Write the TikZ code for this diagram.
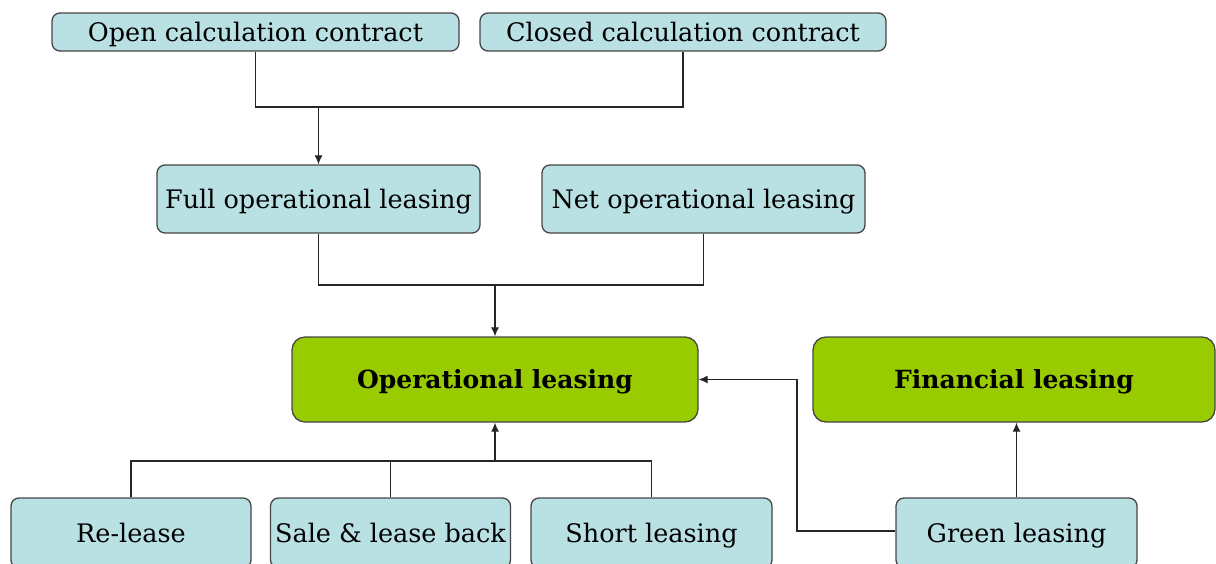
\documentclass[tikz,border=0pt]{standalone}
\usepackage{fontspec}
\setmainfont{DejaVu Serif}
\usetikzlibrary{arrows.meta}
\definecolor{boxblue}{RGB}{185,224,227}
\definecolor{boxgreen}{RGB}{153,204,0}
\definecolor{edge}{RGB}{70,70,70}
\tikzset{
  lbox/.style={draw=edge, line width=1.3pt, fill=boxblue, rounded corners=8pt, inner sep=0pt,
    text height=20pt, text depth=1.2pt, font=\fontsize{25.5}{30}\selectfont},
  gbox/.style={draw=edge, line width=1.3pt, fill=boxgreen, rounded corners=13pt, inner sep=0pt,
    text height=19.5pt, text depth=1.2pt, font=\fontsize{25}{30}\selectfont\bfseries},
  ln/.style={draw=black!85, line width=1.2pt},
  arr/.style={ln, -{Latex[length=9pt,width=8pt]}}
}
\begin{document}
\begin{tikzpicture}[x=1pt,y=-1pt]
\useasboundingbox (0,0) rectangle (1216,563);
\clip (0,0) rectangle (1216,563);
\node[lbox, minimum width=407pt, minimum height=38pt] (open) at (255.5,32) {Open calculation contract};
\node[lbox, minimum width=406pt, minimum height=38pt] (closed) at (683,32) {Closed calculation contract};
\node[lbox, minimum width=323pt, minimum height=68pt] (full) at (318.5,199) {Full operational leasing};
\node[lbox, minimum width=323pt, minimum height=68pt] (net) at (703.5,199) {Net operational leasing};
\node[gbox, minimum width=406pt, minimum height=85pt] (op) at (495,379.5) {Operational leasing};
\node[gbox, minimum width=402pt, minimum height=85pt] (fin) at (1014,379.5) {Financial leasing};
\node[lbox, minimum width=240pt, minimum height=70pt] (re) at (131,533) {Re-lease};
\node[lbox, minimum width=240pt, minimum height=70pt] (sale) at (390.5,533) {Sale \& lease back};
\node[lbox, minimum width=241pt, minimum height=70pt] (short) at (651.5,533) {Short leasing};
\node[lbox, minimum width=241pt, minimum height=70pt] (green) at (1016.5,533) {Green leasing};
% top junction
\coordinate (j1) at (318.5,107);
\draw[ln] (open.south) |- (j1) -| (closed.south);
\draw[arr] (j1) -- (full.north);
% middle junction
\coordinate (j2) at (495,285);
\draw[ln] (full.south) |- (j2) -| (net.south);
\draw[arr] (j2) -- (op.north);
% bottom junction
\coordinate (j3) at (495,461);
\draw[ln] (re.north) |- (j3) -| (short.north);
\draw[ln] (sale.north) -- (sale.north |- j3);
\draw[arr] (j3) -- (op.south);
% green leasing
\coordinate (j4) at (797,531);
\draw[arr] (green.west |- j4) -- (j4) |- (op.east);
\draw[arr] (green.north) -- (fin.south -| green.north);
\end{tikzpicture}
\end{document}
